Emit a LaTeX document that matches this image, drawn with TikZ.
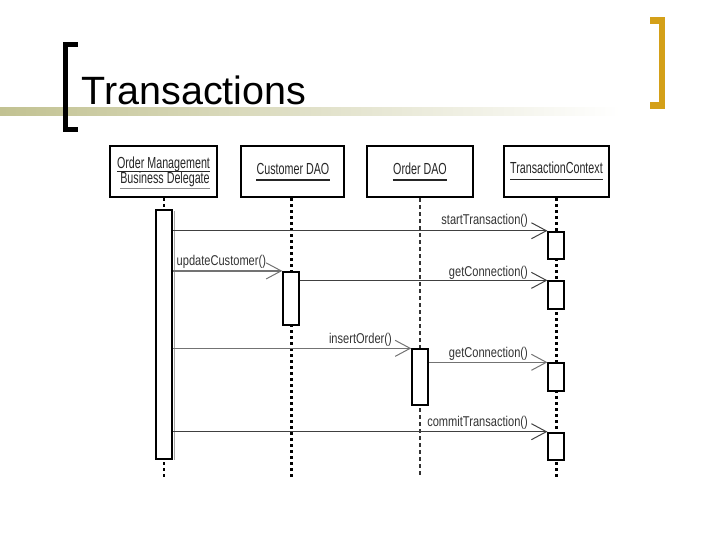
\documentclass[tikz,border=0pt]{standalone}
\usepackage{fontspec}
\setmainfont{Liberation Sans}
\usepackage{graphicx}
\usetikzlibrary{arrows.meta,calc}
\definecolor{bandc}{RGB}{194,194,146}
\definecolor{goldc}{RGB}{212,160,24}
\newcommand{\boxlbl}[1]{\scalebox{0.67}[1]{\fontsize{16}{16}\selectfont #1}}
\newcommand{\msglbl}[1]{\scalebox{0.78}[1]{\fontsize{14.2}{14}\selectfont #1}}
\tikzset{
  hdr/.style={draw=black, line width=2.2pt, fill=white, inner sep=0pt, minimum height=51pt},
  hlbl/.style={inner sep=0pt, text=black!85},
  ulk/.style={draw=black!85, line width=1.3pt},
  ulg/.style={draw=black!45, line width=1.3pt},
  life/.style={draw=black, line width=2.2pt, dash pattern=on 3pt off 3pt},
  lifethin/.style={draw=black!80, line width=1.6pt, dash pattern=on 4pt off 3pt},
  act/.style={draw=black, line width=2pt, fill=white, inner sep=0pt, minimum width=15.5pt},
  msg/.style={draw=black!75, line width=0.9pt, -{Straight Barb[length=15pt,width=16pt,line width=1pt]}},
  msgg/.style={draw=black!55, line width=1.4pt, -{Straight Barb[length=15pt,width=16pt,line width=1pt]}},
  mlbl/.style={inner sep=0pt, text=black!80}
}
\begin{document}
\begin{tikzpicture}[x=1pt,y=-1pt]
\useasboundingbox (0,0) rectangle (720,540);
% title band and brackets
\shade[left color=bandc, right color=white] (0,108) rectangle (620,116);
\fill[black] (63,42) rectangle (68,132);
\fill[black] (63,42) rectangle (78,47);
\fill[black] (63,127) rectangle (78,132);
\node[anchor=base west, inner sep=0pt, font=\fontsize{39.5}{40}\selectfont] (title) at (81.5,105) {Transactions};
\fill[goldc] (659,17) rectangle (665,109);
\fill[goldc] (650,17) rectangle (665,24);
\fill[goldc] (650,102) rectangle (665,109);

% lifeline bottom reference
\coordinate (bot) at (0,478);

% headers
\node[hdr, minimum width=107pt] (h1) at (163.5,171.5) {};
\node[hdr, minimum width=103pt] (h2) at (292.5,171.5) {};
\node[hdr, minimum width=106pt] (h3) at (420,171.5) {};
\node[hdr, minimum width=105pt] (h4) at (556.7,171.5) {};

% lifelines
\draw[life] (h1.south -| 164,0) -- (164,478);
\draw[life] (h2.south -| 291.5,0) -- (291.5,478);
\draw[lifethin] (h3.south) -- (h3.south |- bot);
\draw[life] (h4.south -| 556.5,0) -- (556.5,478);

% header labels
\node[hlbl, anchor=base] (t1a) at (163.5,168.3) {\boxlbl{Order Management}};
\draw[ulk] ($(t1a.base west)+(0,3.5)$) -- ($(t1a.base east)+(0,3.5)$);
\node[hlbl, anchor=base] (t1b) at (165,183.5) {\boxlbl{Business Delegate}};
\draw[ulg] ($(t1b.base west)+(0,4.8)$) -- ($(t1b.base east)+(0,4.8)$);
\node[hlbl, anchor=base] (t2) at (293,175) {\boxlbl{Customer DAO}};
\draw[ulk] ($(t2.base west)+(0,5)$) -- ($(t2.base east)+(0,5)$);
\node[hlbl, anchor=base] (t3) at (420,175) {\boxlbl{Order DAO}};
\draw[ulk] ($(t3.base west)+(0,5)$) -- ($(t3.base east)+(0,5)$);
\node[hlbl, anchor=base] (t4) at (556.5,174) {\boxlbl{TransactionContext}};
\draw[ulk] ($(t4.base west)+(0,5.7)$) -- ($(t4.base east)+(0,5.7)$);

% activations
\draw[black!35, line width=1.5pt] (174.3,211) -- (174.3,460);
\node[act, minimum height=249pt] (a1) at (164,334.6) {};
\node[act, minimum height=53pt] (a2) at (291,298.4) {};
\node[act, minimum height=55.7pt] (a3) at (420,377.2) {};
\node[act, minimum height=27.3pt] (a4a) at (556.2,245.4) {};
\node[act, minimum height=27.7pt] (a4b) at (556.2,295.2) {};
\node[act, minimum height=27.4pt] (a4c) at (556.2,377) {};
\node[act, minimum height=27pt] (a4d) at (556.2,446.2) {};

% messages
\draw[msg] (a1.east |- a4a.north west) -- (a4a.north west);
\node[mlbl, anchor=base east] (m1) at (528,224.5) {\msglbl{startTransaction()}};
\draw[msgg] (a1.east |- a2.north west) -- (a2.north west);
\node[mlbl, anchor=base west] (m2) at (176.5,265) {\msglbl{updateCustomer()}};
\draw[msg] (a2.east |- a4b.north west) -- (a4b.north west);
\node[mlbl, anchor=base east] (m3) at (528,276) {\msglbl{getConnection()}};
\draw[msgg] (a1.east |- a3.north west) -- (a3.north west);
\node[mlbl, anchor=base east] (m4) at (392,343) {\msglbl{insertOrder()}};
\draw[msgg] (a3.east |- a4c.north west) -- (a4c.north west);
\node[mlbl, anchor=base east] (m5) at (528,357.5) {\msglbl{getConnection()}};
\draw[msg] (a1.east |- a4d.north west) -- (a4d.north west);
\node[mlbl, anchor=base east] (m6) at (528,426.5) {\msglbl{commitTransaction()}};
\end{tikzpicture}
\end{document}
